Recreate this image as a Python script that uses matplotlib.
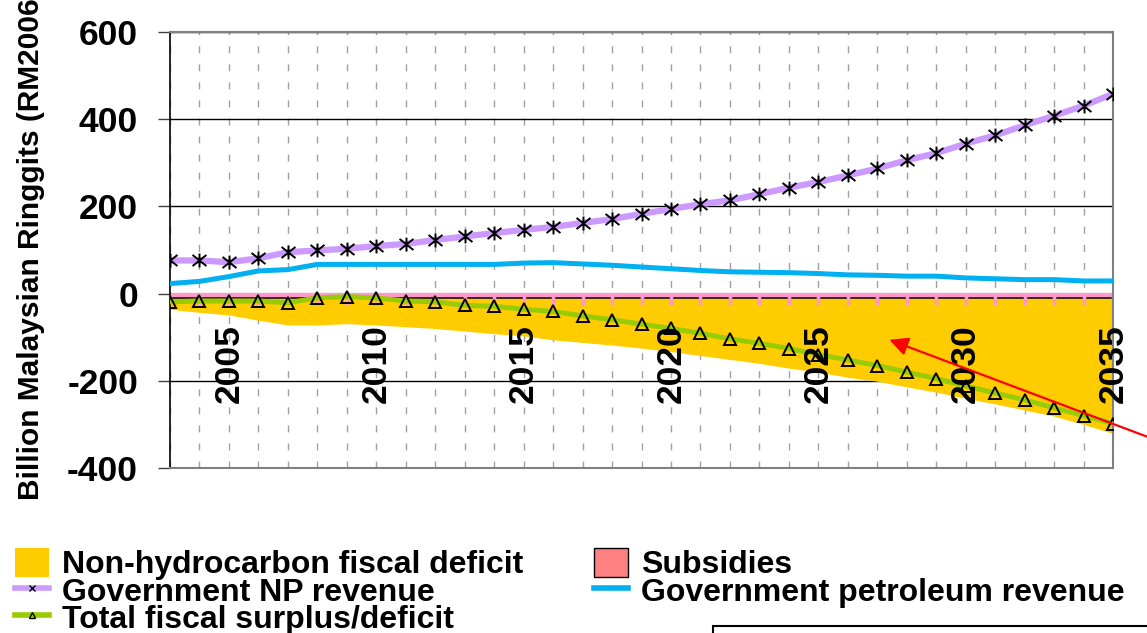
import matplotlib.pyplot as plt
import numpy as np
from matplotlib.path import Path
from matplotlib.patches import Patch, Rectangle
from matplotlib.lines import Line2D

plt.rcParams['font.family'] = ['Liberation Sans', 'DejaVu Sans']
plt.rcParams['font.weight'] = 'bold'
plt.rcParams['axes.unicode_minus'] = False

years = list(range(2003, 2036))
year_labels = [2005, 2010, 2015, 2020, 2025, 2030, 2035]

np_revenue = [76, 76, 72, 81, 95, 99, 103, 109, 114, 123, 131, 139, 146, 153, 162,
              171, 183, 194, 205, 214, 228, 243, 256, 271, 287, 306, 322, 344, 363,
              386, 408, 431, 458]
petroleum_revenue = [23, 28, 39, 52, 55, 67, 67, 67, 67, 67, 67, 67, 70, 71, 68,
                     65, 61, 57, 53, 50, 49, 48, 46, 43, 42, 40, 40, 36, 34, 32,
                     32, 29, 29]
total_fiscal = [-19, -17, -17, -17, -21, -10, -7, -10, -17, -19, -27, -29, -36, -41,
                -51, -60, -70, -80, -91, -104, -114, -126, -140, -152, -165, -180,
                -195, -212, -228, -244, -262, -280, -298]
subsidies = [-9] * 33
# lower edge of the stacked non-hydrocarbon deficit area
nonhydro_edge = [-36, -43, -49, -61, -72, -72, -69, -72, -76, -80, -86, -92, -97, -106,
                 -112, -118, -125, -133, -142, -151, -160, -171, -180, -192, -201,
                 -214, -226, -240, -253, -267, -281, -300, -321]
nonhydro_deficit = [e - s for e, s in zip(nonhydro_edge, subsidies)]

yellow = '#FFCC00'
pink = '#FF99CC'
salmon = '#FF8080'
purple = '#CC99FF'
blue = '#00B0F0'
green = '#99CC00'

star = Path([(-1, -0.8), (1, 0.8), (-1, 0.8), (1, -0.8), (0, -1), (0, 1)],
            [Path.MOVETO, Path.LINETO, Path.MOVETO, Path.LINETO, Path.MOVETO, Path.LINETO])

fig = plt.figure(figsize=(11.47, 6.33), dpi=100)
ax = fig.add_axes([0.1482, 0.2607, 0.8222, 0.6887])

yrs = np.array(years)
subs = np.array(subsidies)
nh = np.array(nonhydro_deficit)

ax.fill_between(yrs, 0, subs, color=salmon, lw=0, zorder=2)
ax.plot(yrs, np.full(len(yrs), -3), color=pink, lw=3, zorder=2.1)
ax.fill_between(yrs, subs, subs + nh, color=yellow, lw=0, zorder=2)
ax.plot(yrs, subs, color='#3a2a10', lw=1.4, zorder=2.2)
ax.vlines(yrs, 0, -27, color=pink, lw=2.5, zorder=2.3)

ax.plot(yrs, petroleum_revenue, color=blue, lw=3.6, zorder=3)
ax.plot(yrs, np_revenue, color=purple, lw=4.5, marker=star, ms=10,
        mec='black', mew=1.4, zorder=4)
ax.plot(yrs, total_fiscal, color=green, lw=3.6, marker='^', ms=9,
        mfc='none', mec='black', mew=1.4, zorder=4)

ax.set_xlim(2003, 2035)
ax.set_ylim(-400, 600)
ax.set_yticks([-400, -200, 0, 200, 400, 600])
ax.set_xticks(years)
ax.set_xticklabels([])
ax.tick_params(axis='x', length=0)
ax.tick_params(axis='y', length=9, width=1, color='#404040', pad=14, labelsize=25.5)
for lab in ax.get_yticklabels():
    lab.set_fontweight('bold')
ax.set_axisbelow(True)
ax.xaxis.grid(True, color='#a0a0a0', lw=1, ls=(0, (5, 8)))
ax.yaxis.grid(True, color='black', lw=1)
ax.axhline(0, color='#303030', lw=1.5, zorder=1.5)

for side in ['top', 'right', 'bottom']:
    ax.spines[side].set_color('#808080')
    ax.spines[side].set_linewidth(1.5)
ax.spines['left'].set_color('black')
ax.spines['left'].set_linewidth(1.2)

for y in year_labels:
    ax.text(y, -252, str(y), rotation=90, ha='center', va='bottom',
            fontsize=25.5, fontweight='bold', zorder=10)

fig.text(0.027, 0.21, 'Billion Malaysian Ringgits (RM2006)', rotation=90,
         ha='center', va='bottom', fontsize=21.5, fontweight='bold')

ax.annotate('', xy=(2027.41, -106), xycoords='data',
            xytext=(1.012, 0.302), textcoords='figure fraction',
            arrowprops=dict(arrowstyle='-|>', color='red', lw=1.6,
                            mutation_scale=28, shrinkA=0, shrinkB=0),
            annotation_clip=False, zorder=11)

h1 = [Patch(facecolor=yellow, edgecolor='none'),
      Line2D([], [], color=purple, lw=4, marker='x', ms=5, mec='black', mew=1),
      Line2D([], [], color=green, lw=4, marker='^', ms=5, mfc='none', mec='black', mew=1)]
l1 = ['Non-hydrocarbon fiscal deficit', 'Government NP revenue',
      'Total fiscal surplus/deficit']
h2 = [Patch(facecolor=salmon, edgecolor='black', lw=1),
      Line2D([], [], color=blue, lw=4)]
l2 = ['Subsidies', 'Government petroleum revenue']

common = dict(loc='upper left', frameon=False, borderpad=0,
              borderaxespad=0, handlelength=1.05, handleheight=1.0,
              handletextpad=0.42, labelspacing=-0.16,
              prop={'weight': 'bold', 'size': 23})
leg1 = fig.legend(h1, l1, bbox_to_anchor=(0.0131, 0.134), **common)
leg2 = fig.legend(h2, l2, bbox_to_anchor=(0.518, 0.134), **common)

fig.add_artist(Rectangle((713 / 1147, -0.2), 1.0, 0.2 + 7 / 633, fill=False,
                         edgecolor='black', lw=1.5, transform=fig.transFigure,
                         clip_on=False))

fig.savefig('out.png', dpi=100)
